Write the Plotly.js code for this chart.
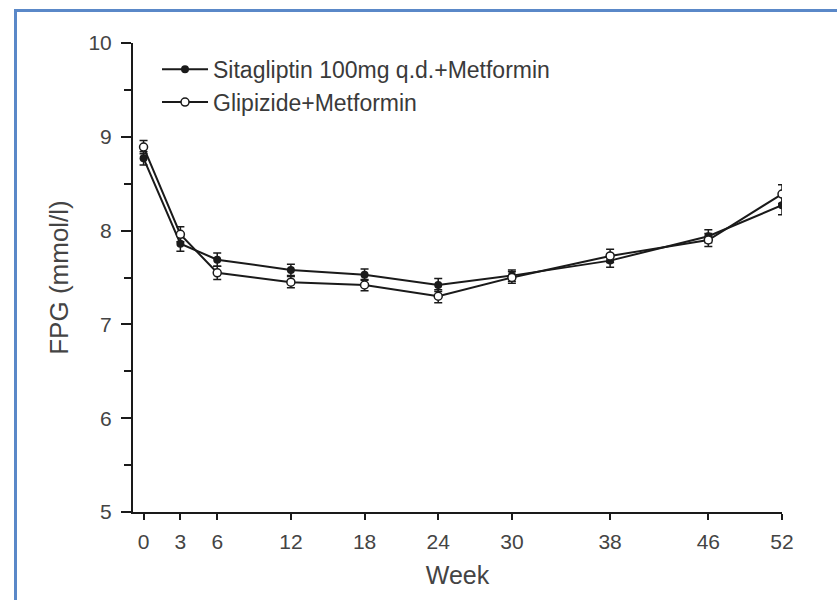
<!DOCTYPE html>
<html>
<head>
<meta charset="utf-8">
<script src="https://cdn.plot.ly/plotly-3.0.1.min.js"></script>
<style>
  html, body { margin: 0; padding: 0; background: #fff; }
  #chart { width: 837px; height: 600px; }
  #frame { position: absolute; left: 14px; top: 9px; width: 900px; height: 700px;
           border-top: 3px solid #5a88c8; border-left: 3px solid #5a88c8; pointer-events: none; }
</style>
</head>
<body>
<div id="chart"></div>
<div id="frame"></div>
<script>
const weeks = [0, 3, 6, 12, 18, 24, 30, 38, 46, 52];
const sitaName = 'Sitagliptin 100mg q.d.+Metformin';
const sitaFPG = [8.77, 7.86, 7.69, 7.58, 7.53, 7.42, 7.52, 7.68, 7.94, 8.27];
const sitaErr = [0.07, 0.08, 0.07, 0.06, 0.06, 0.07, 0.06, 0.07, 0.07, 0.1];
const glipName = 'Glipizide+Metformin';
const glipFPG = [8.89, 7.96, 7.55, 7.45, 7.42, 7.30, 7.50, 7.73, 7.90, 8.39];
const glipErr = [0.07, 0.08, 0.07, 0.06, 0.06, 0.07, 0.06, 0.07, 0.07, 0.1];
const yTicks = [5, 6, 7, 8, 9, 10];

const lineColor = '#1a1a1a';
const traces = [
  {
    x: weeks, y: sitaFPG, name: sitaName, type: 'scatter', mode: 'lines+markers',
    line: {color: lineColor, width: 2},
    marker: {symbol: 'circle', size: 8, color: lineColor},
    error_y: {type: 'data', array: sitaErr, visible: true, color: lineColor, thickness: 1.5, width: 4}
  },
  {
    x: weeks, y: glipFPG, name: glipName, type: 'scatter', mode: 'lines+markers',
    line: {color: lineColor, width: 2},
    marker: {symbol: 'circle', size: 8, color: '#ffffff', line: {color: lineColor, width: 1.5}},
    error_y: {type: 'data', array: glipErr, visible: true, color: lineColor, thickness: 1.5, width: 4}
  }
];

const layout = {
  width: 837, height: 600,
  margin: {l: 133, r: 55, t: 43, b: 88},
  paper_bgcolor: '#ffffff', plot_bgcolor: '#ffffff',
  font: {family: 'Liberation Sans, Arial, sans-serif', color: '#333'},
  showlegend: true,
  legend: {
    x: 0.037, y: 0.99, xanchor: 'left', yanchor: 'top',
    bgcolor: 'rgba(0,0,0,0)', font: {size: 23, color: '#3a3a3a'},
    tracegroupgap: 0, itemwidth: 46
  },
  xaxis: {
    range: [-0.86, 52], tickvals: weeks, ticktext: weeks.map(String),
    showgrid: false, zeroline: false, showline: true, linecolor: lineColor, linewidth: 2,
    ticks: 'outside', ticklen: 6, tickwidth: 2, tickcolor: lineColor,
    tickfont: {size: 21, color: '#444'}, ticklabelstandoff: 4,
    title: {text: 'Week', font: {size: 25, color: '#444'}, standoff: 14}
  },
  yaxis: {
    range: [5, 10], tickvals: yTicks, ticktext: yTicks.map(String),
    showgrid: false, zeroline: false, showline: true, linecolor: lineColor, linewidth: 2,
    ticks: 'outside', ticklen: 10, tickwidth: 2, tickcolor: lineColor,
    tickfont: {size: 21, color: '#444'}, ticklabelstandoff: 5,
    minor: {dtick: 0.5, tick0: 5, ticks: 'outside', ticklen: 7, tickwidth: 2, tickcolor: lineColor, showgrid: false},
    title: {text: 'FPG (mmol/l)', font: {size: 26, color: '#444'}, standoff: 12}
  }
};

Plotly.newPlot('chart', traces, layout, {displayModeBar: false, staticPlot: true});
</script>
</body>
</html>
